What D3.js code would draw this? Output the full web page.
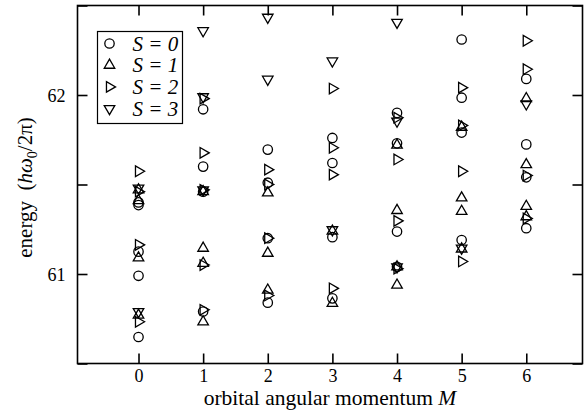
<!DOCTYPE html>
<html>
<head>
<meta charset="utf-8">
<script src="https://cdn.jsdelivr.net/npm/d3@7/dist/d3.min.js"></script>
<style>
  html, body { margin: 0; padding: 0; background: #fff; }
  svg { display: block; }
  text { font-family: "Liberation Serif", "Times New Roman", Times, serif; fill: #000; }
</style>
</head>
<body>
<svg id="chart" width="587" height="413"></svg>
<script>
// Energy levels (units of h·omega0/2pi) per orbital angular momentum M, one list per total spin S
const momentum = [0, 1, 2, 3, 4, 5, 6];
const yMajorTicks = [61, 62];
const yMinorTicks = [60.5, 61.5, 62.5];
const spinLabels = ["0", "1", "2", "3"];

const levelsS0 = [
  [0, 61.40], [0, 61.385], [0, 61.125], [0, 60.99], [0, 60.648],
  [1, 61.92], [1, 61.60], [1, 61.46], [1, 60.79],
  [2, 61.695], [2, 61.51], [2, 61.20], [2, 60.84],
  [3, 61.76], [3, 61.62], [3, 61.206], [3, 60.864],
  [4, 61.90], [4, 61.73], [4, 61.237], [4, 61.04],
  [5, 62.31], [5, 61.985], [5, 61.79], [5, 61.19],
  [6, 62.09], [6, 61.724], [6, 61.54], [6, 61.256]
];
const levelsS1 = [
  [0, 61.47], [0, 61.41], [0, 61.09], [0, 60.77],
  [1, 61.46], [1, 61.144], [1, 61.06], [1, 60.733],
  [2, 61.453], [2, 61.116], [2, 60.91],
  [3, 61.24], [3, 60.836],
  [4, 61.72], [4, 61.355], [4, 61.04], [4, 60.938],
  [5, 61.82], [5, 61.425], [5, 61.35], [5, 61.14],
  [6, 61.98], [6, 61.611], [6, 61.378], [6, 61.32]
];
const levelsS2 = [
  [0, 61.574], [0, 61.46], [0, 61.163], [0, 60.733],
  [1, 61.98], [1, 61.677], [1, 61.47], [1, 61.05], [1, 60.80],
  [2, 61.583], [2, 61.50], [2, 61.20], [2, 60.88],
  [3, 62.036], [3, 61.705], [3, 61.555], [3, 60.92],
  [4, 61.873], [4, 61.64], [4, 61.297], [4, 61.03],
  [5, 62.041], [5, 61.83], [5, 61.574], [5, 61.07],
  [6, 62.303], [6, 62.144], [6, 61.55], [6, 61.31]
];
const levelsS3 = [
  [0, 61.48], [0, 60.79],
  [1, 62.359], [1, 61.99], [1, 61.47],
  [2, 62.434], [2, 62.088],
  [3, 62.19], [3, 61.247],
  [4, 62.406], [4, 61.854], [4, 61.04],
  [5, 61.144],
  [6, 61.95]
];
const seriesLevels = [levelsS0, levelsS1, levelsS2, levelsS3];
// marker per spin: circle, up, right, down triangle
const markerKind = ["circle", "up", "right", "down"];

const serif = '"Liberation Serif", "Times New Roman", Times, serif';
const plot = { left: 77.5, right: 582.5, top: 5.5, bottom: 363.5 };
const svg = d3.select("#chart");

const x = d3.scaleLinear().domain([-0.944, 6.87]).range([plot.left, plot.right]);
const y = d3.scaleLinear().domain([60.5, 62.5]).range([plot.bottom, plot.top]);

const tickLen = 10;
const lineW = 1.6;

// frame
svg.append("rect")
  .attr("x", plot.left).attr("y", plot.top)
  .attr("width", plot.right - plot.left).attr("height", plot.bottom - plot.top)
  .attr("fill", "none").attr("stroke", "#000").attr("stroke-width", lineW);

// bottom and top axes with inward ticks
const xBottom = d3.axisBottom(x).tickValues(momentum).tickSizeInner(-tickLen).tickSizeOuter(0).tickPadding(6).tickFormat(d3.format("d"));
const gxb = svg.append("g").attr("transform", `translate(0,${plot.bottom})`).call(xBottom);
const xTop = d3.axisTop(x).tickValues(momentum).tickSizeInner(-tickLen).tickSizeOuter(0).tickFormat("");
const gxt = svg.append("g").attr("transform", `translate(0,${plot.top})`).call(xTop);

// left and right axes: labelled major ticks plus unlabelled half-unit ticks
const allY = yMajorTicks.concat(yMinorTicks).sort((a, b) => a - b);
const yLeft = d3.axisLeft(y).tickValues(allY).tickSizeInner(-tickLen).tickSizeOuter(0).tickPadding(12)
  .tickFormat(d => yMajorTicks.includes(d) ? d3.format("d")(d) : "");
const gyl = svg.append("g").attr("transform", `translate(${plot.left},0)`).call(yLeft);
const yRight = d3.axisRight(y).tickValues(allY).tickSizeInner(-tickLen).tickSizeOuter(0).tickFormat("");
const gyr = svg.append("g").attr("transform", `translate(${plot.right},0)`).call(yRight);

[gxb, gxt, gyl, gyr].forEach(g => {
  g.attr("font-family", null);
  g.select(".domain").remove();
  g.selectAll(".tick line").attr("stroke", "#000").attr("stroke-width", lineW);
  g.selectAll(".tick text")
    .style("font-family", serif)
    .attr("font-size", 18).attr("fill", "#000");
});
gyl.selectAll(".tick text").attr("dy", "0.34em");

// axis titles
const xTitle = svg.append("text")
  .attr("x", (plot.left + plot.right) / 2).attr("y", 404.5)
  .attr("text-anchor", "middle").attr("font-size", 21.5)
  .style("font-family", serif);
xTitle.append("tspan").text("orbital angular momentum ");
xTitle.append("tspan").attr("font-style", "italic").text("M");

const yTitle = svg.append("text")
  .attr("transform", `translate(32,${(plot.top + plot.bottom) / 2 + 3}) rotate(-90)`)
  .attr("text-anchor", "middle").attr("font-size", 21)
  .style("font-family", serif)
  .style("white-space", "pre");
yTitle.append("tspan").text("energy\u00a0\u00a0(");
yTitle.append("tspan").attr("font-style", "italic").text("h");
yTitle.append("tspan").attr("font-style", "italic").text("ω");
yTitle.append("tspan").attr("font-size", 14).attr("dy", 5).text("0");
yTitle.append("tspan").attr("dy", -5).text("/2π)");

// markers
const triSize = 48;
function drawMarker(sel, kind) {
  if (kind === "circle") {
    sel.append("circle").attr("r", 4.7);
  } else {
    const rot = kind === "up" ? 0 : kind === "right" ? 90 : 180;
    sel.append("path")
      .attr("d", d3.symbol().type(d3.symbolTriangle).size(triSize)())
      .attr("transform", `rotate(${rot})`);
  }
  sel.selectAll("circle, path")
    .attr("fill", "none").attr("stroke", "#000").attr("stroke-width", 1.3);
}

seriesLevels.forEach((levels, i) => {
  const g = svg.append("g").attr("class", "series-s" + i);
  g.selectAll("g.pt").data(levels).join("g")
    .attr("class", "pt")
    .attr("transform", d => `translate(${x(d[0])},${y(d[1])})`)
    .each(function () { drawMarker(d3.select(this), markerKind[i]); });
});

// legend
const legend = { x: 97.5, y: 31.5, w: 85, h: 92, row: 21.7 };
svg.append("rect")
  .attr("x", legend.x).attr("y", legend.y).attr("width", legend.w).attr("height", legend.h)
  .attr("fill", "#fff").attr("stroke", "#000").attr("stroke-width", 1.2);
spinLabels.forEach((s, i) => {
  const cy = legend.y + 12 + i * legend.row;
  const m = svg.append("g").attr("transform", `translate(${legend.x + 12},${cy})`);
  drawMarker(m, markerKind[i]);
  svg.append("text")
    .attr("x", legend.x + 35).attr("y", cy + 7)
    .attr("font-size", 21).attr("font-style", "italic")
    .style("font-family", serif)
    .text(`S = ${s}`);
});
</script>
</body>
</html>
